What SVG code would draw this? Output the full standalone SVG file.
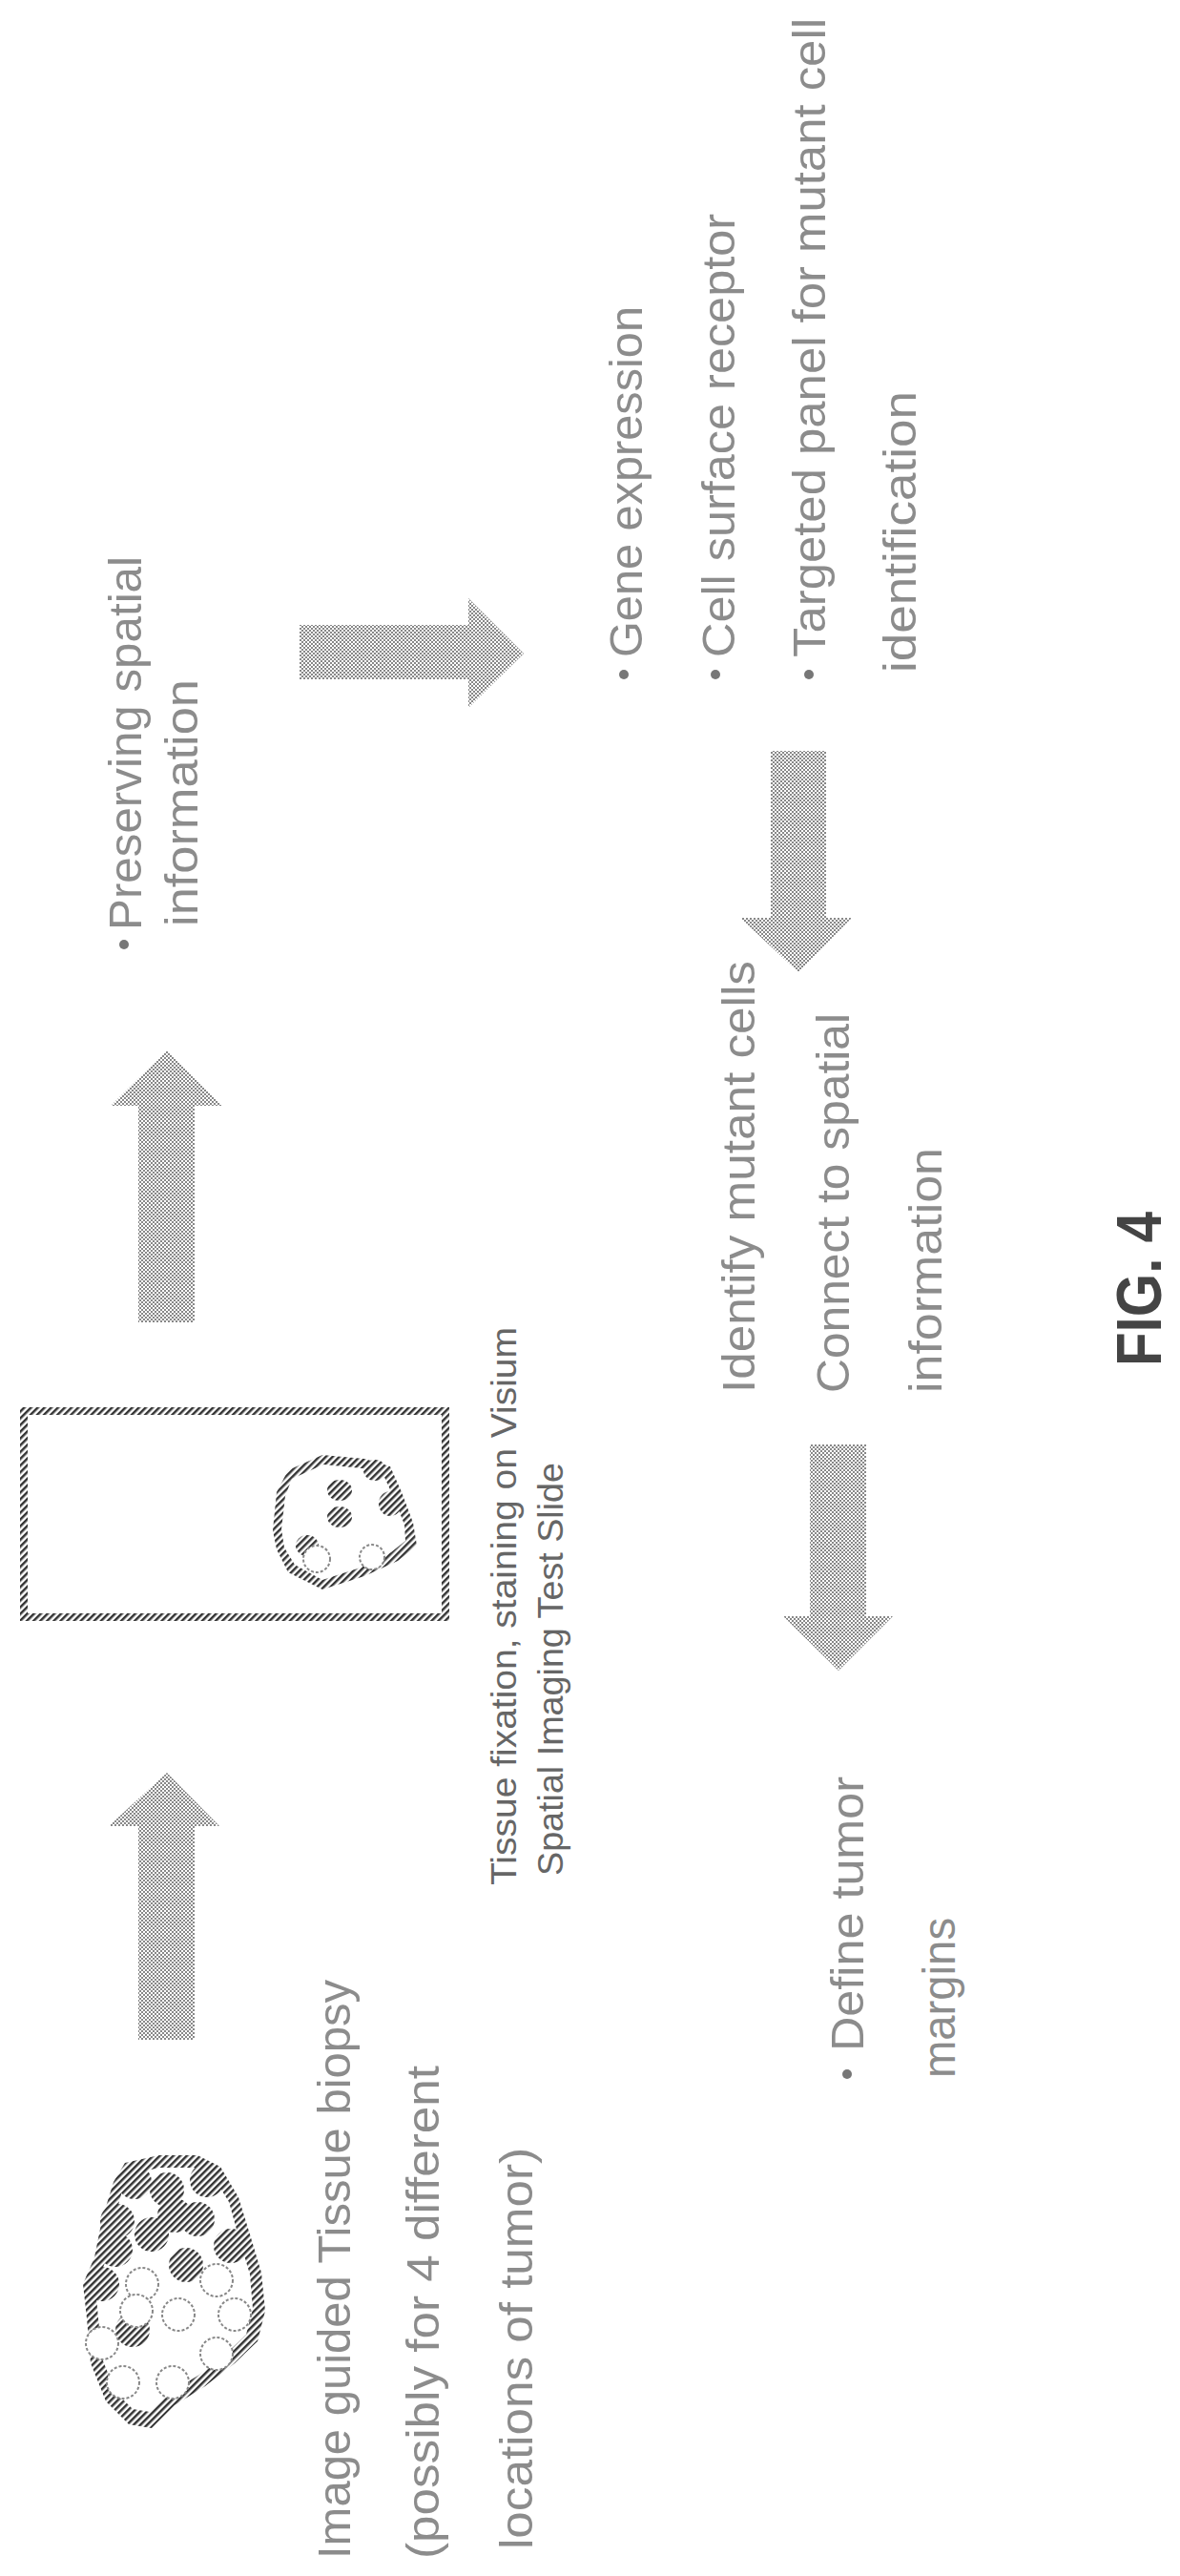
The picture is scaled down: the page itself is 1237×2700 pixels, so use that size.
<svg xmlns="http://www.w3.org/2000/svg" width="1237" height="2700" viewBox="0 0 1237 2700">
<defs>
<pattern id="dots" width="4" height="4" patternUnits="userSpaceOnUse"><rect width="4" height="4" fill="#fff"/><rect x="0" y="0" width="2" height="2" fill="#888"/><rect x="2" y="2" width="2" height="2" fill="#888"/></pattern>
<pattern id="hatch" width="5" height="5" patternUnits="userSpaceOnUse" patternTransform="rotate(45)"><rect width="5" height="5" fill="#fff"/><rect width="2.5" height="5" fill="#333"/></pattern>
</defs>
<style>
.t{font-family:"Liberation Sans",Arial,sans-serif;font-size:48px;fill:#8c8c8c}
.s{font-family:"Liberation Sans",Arial,sans-serif;font-size:36px;fill:#666}
.f{font-family:"Liberation Sans",Arial,sans-serif;font-size:66px;font-weight:bold;fill:#444}
.arr{fill:url(#dots)}
.b{fill:#777}
.hf{fill:url(#hatch)}
.oc{fill:#fff;stroke:#888;stroke-width:2;stroke-dasharray:3 2}
</style>
<rect width="1237" height="2700" fill="#fff"/>
<g id="connectors">
<polygon class="arr" points="145,1386 145,1159 116,1159 175,1101 233,1159 204,1159 204,1386"/>
<polygon class="arr" points="145,2138 145,1914 114,1914 175,1858 230,1914 204,1914 204,2138"/>
<polygon class="arr" points="314,655 491,655 491,627 549,685 491,742 491,712 314,712"/>
<polygon class="arr" points="808,787 866,787 866,962 893,962 837,1019 776,962 808,962"/>
<polygon class="arr" points="849,1514 908,1514 908,1694 936,1694 879,1751 821,1694 849,1694"/>
</g>
<g id="biopsy">
<polygon class="hf" points="131,2267 167,2259 207,2259 231,2271 250,2303 262,2342 274,2382 278,2422 270,2454 246,2477 215,2501 183,2521 159,2545 135,2541 111,2517 95,2477 91,2430 87,2394 99,2366 107,2326 119,2287"/>
<polygon fill="#fff" points="137,2279 167,2272 205,2272 224,2282 240,2308 250,2344 262,2384 265,2420 258,2447 238,2466 209,2489 178,2508 157,2528 139,2525 121,2507 107,2472 103,2430 100,2397 111,2369 119,2329 129,2293"/>
<g class="hf">
<circle cx="141" cy="2287" r="18"/><circle cx="175" cy="2295" r="18"/><circle cx="217" cy="2285" r="18"/><circle cx="123" cy="2328" r="18"/><circle cx="183" cy="2322" r="18"/><circle cx="207" cy="2326" r="18"/><circle cx="121" cy="2358" r="18"/><circle cx="159" cy="2342" r="18"/><circle cx="242" cy="2354" r="18"/><circle cx="107" cy="2394" r="18"/><circle cx="195" cy="2374" r="18"/><circle cx="139" cy="2442" r="18"/>
</g>
<circle class="oc" cx="149" cy="2394" r="17"/><circle class="oc" cx="227" cy="2390" r="17"/><circle class="oc" cx="143" cy="2422" r="17"/><circle class="oc" cx="187" cy="2426" r="17"/><circle class="oc" cx="246" cy="2426" r="17"/><circle class="oc" cx="107" cy="2456" r="17"/><circle class="oc" cx="227" cy="2467" r="17"/><circle class="oc" cx="129" cy="2497" r="17"/><circle class="oc" cx="181" cy="2497" r="17"/>
<text class="t" transform="translate(367,2682) rotate(-90)" textLength="607" lengthAdjust="spacingAndGlyphs">Image guided Tissue biopsy</text>
<text class="t" transform="translate(460,2682) rotate(-90)" textLength="517" lengthAdjust="spacingAndGlyphs">(possibly for 4 different</text>
<text class="t" transform="translate(558,2672) rotate(-90)" textLength="421" lengthAdjust="spacingAndGlyphs">locations of tumor)</text>
</g>
<g id="slide">
<rect x="25" y="1479" width="442" height="216" fill="none" stroke="url(#hatch)" stroke-width="8"/>
<polygon class="hf" points="302,1541 338,1525 382,1529 409,1537 421,1564 433,1596 437,1620 417,1636 382,1652 338,1666 302,1648 290,1624 286,1604 290,1564"/>
<polygon fill="#fff" points="306,1550 339,1535 380,1539 402,1546 412,1568 424,1598 425,1615 410,1627 378,1643 338,1656 309,1640 298,1622 295,1603 299,1568"/>
<g class="hf"><ellipse cx="356" cy="1562" rx="13" ry="11"/><ellipse cx="356" cy="1590" rx="13" ry="11"/><ellipse cx="409" cy="1576" rx="12" ry="13"/><ellipse cx="393" cy="1541" rx="12" ry="11"/><ellipse cx="322" cy="1620" rx="12" ry="11"/></g>
<circle class="oc" cx="332" cy="1634" r="14"/><circle class="oc" cx="390" cy="1632" r="13"/>
<text class="s" transform="translate(541,1976) rotate(-90)" textLength="585" lengthAdjust="spacingAndGlyphs">Tissue fixation, staining on Visium</text>
<text class="s" transform="translate(590,1966) rotate(-90)" textLength="433" lengthAdjust="spacingAndGlyphs">Spatial Imaging Test Slide</text>
</g>
<g id="preserving">
<circle class="b" cx="130" cy="990" r="5"/>
<text class="t" transform="translate(148,975) rotate(-90)" textLength="392" lengthAdjust="spacingAndGlyphs">Preserving spatial</text>
<text class="t" transform="translate(207,971) rotate(-90)" textLength="259" lengthAdjust="spacingAndGlyphs">information</text>
</g>
<g id="analysis">
<circle class="b" cx="654" cy="707" r="5"/><circle class="b" cx="750" cy="707" r="5"/><circle class="b" cx="848" cy="707" r="5"/>
<text class="t" transform="translate(673,689) rotate(-90)" textLength="368" lengthAdjust="spacingAndGlyphs">Gene expression</text>
<text class="t" transform="translate(770,689) rotate(-90)" textLength="465" lengthAdjust="spacingAndGlyphs">Cell surface receptor</text>
<text class="t" transform="translate(865,689) rotate(-90)" textLength="670" lengthAdjust="spacingAndGlyphs">Targeted panel for mutant cell</text>
<text class="t" transform="translate(960,705) rotate(-90)" textLength="295" lengthAdjust="spacingAndGlyphs">identification</text>
</g>
<g id="identify">
<text class="t" transform="translate(791,1460) rotate(-90)" textLength="453" lengthAdjust="spacingAndGlyphs">Identify mutant cells</text>
<text class="t" transform="translate(890,1460) rotate(-90)" textLength="398" lengthAdjust="spacingAndGlyphs">Connect to spatial</text>
<text class="t" transform="translate(987,1460) rotate(-90)" textLength="257" lengthAdjust="spacingAndGlyphs">information</text>
</g>
<g id="define">
<circle class="b" cx="888" cy="2174" r="5"/>
<text class="t" transform="translate(905,2150) rotate(-90)" textLength="288" lengthAdjust="spacingAndGlyphs">Define tumor</text>
<text class="t" transform="translate(1001,2178) rotate(-90)" textLength="168" lengthAdjust="spacingAndGlyphs">margins</text>
</g>
<g id="caption">
<text class="f" transform="translate(1217,1432) rotate(-90)" textLength="162" lengthAdjust="spacingAndGlyphs">FIG. 4</text>
</g>
</svg>
